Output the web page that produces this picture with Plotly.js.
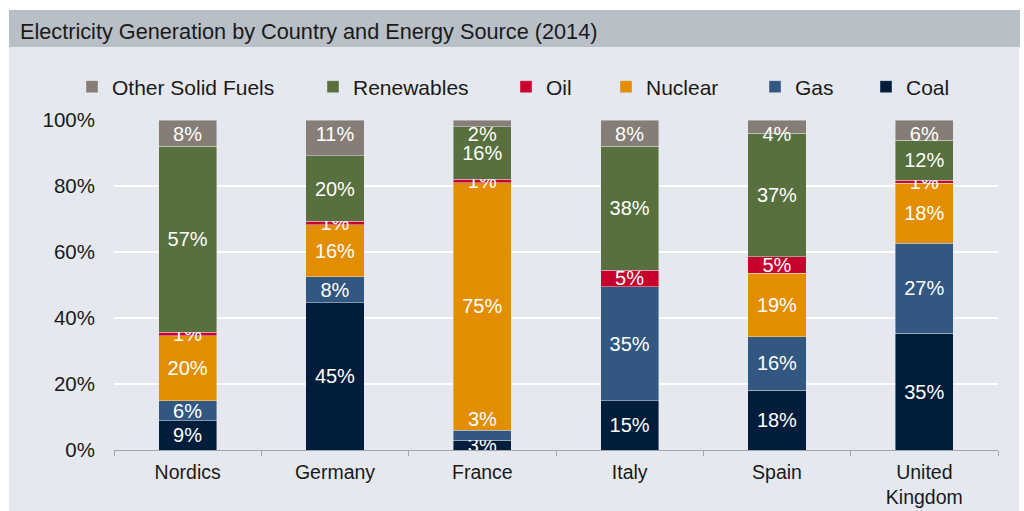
<!DOCTYPE html>
<html>
<head>
<meta charset="utf-8">
<script src="https://cdn.plot.ly/plotly-3.0.1.min.js"></script>
<style>html,body{margin:0;padding:0;background:#fff;}#chart{width:1024px;height:511px;}</style>
</head>
<body>
<div id="chart"></div>
<script>
var countries = ["Nordics", "Germany", "France", "Italy", "Spain", "United<br>Kingdom"];
var coal       = [9, 45, 3, 15, 18, 35];
var gas        = [6, 8, 3, 35, 16, 27];
var nuclear    = [20, 16, 75, 0, 19, 18];
var oil        = [1, 1, 1, 5, 5, 1];
var renewables = [57, 20, 16, 38, 37, 12];
var otherSolid = [8, 11, 2, 8, 4, 6];
var yTickVals  = [0, 20, 40, 60, 80, 100];
var yTickText  = ["0%", "20%", "40%", "60%", "80%", "100%"];

var series = [
  {name: "Coal", values: coal, color: "#001e3c"},
  {name: "Gas", values: gas, color: "#325882"},
  {name: "Nuclear", values: nuclear, color: "#e38d00"},
  {name: "Oil", values: oil, color: "#c8002e"},
  {name: "Renewables", values: renewables, color: "#57703d"},
  {name: "Other Solid Fuels", values: otherSolid, color: "#867d76"}
];

var FONT = "Liberation Sans, Arial, sans-serif";
var LABEL_SIZE = 20;
var TEXT_COLOR = "#1a1a1a";

// plot area in pixels (for paper-coordinate conversions of decorations)
var PL = 114, PR = 998, PT = 120, PB = 450;
function px2x(p) { return (p - PL) / (PR - PL); }
function px2y(p) { return (PB - p) / (PB - PT); }

// legend placement (left edge of each single-entry legend, px), legend order as in the reference
var legendOrder = ["Other Solid Fuels", "Renewables", "Oil", "Nuclear", "Gas", "Coal"];
var legendLeft  = [72, 313, 506, 606, 755, 866];

var totals = countries.map(function (c, i) {
  return series.reduce(function (a, s) { return a + s.values[i]; }, 0);
});

// France: gas label drawn just above its segment (as in reference, to avoid overlap)
var franceIdx = 2;

var traces = series.map(function (s) {
  var li = legendOrder.indexOf(s.name);
  var isTop = s.name === "Other Solid Fuels";
  return {
    type: "bar",
    name: s.name,
    legend: li === 0 ? "legend" : "legend" + (li + 1),
    x: countries,
    y: s.values,
    marker: {color: s.color, line: {color: "rgba(230,232,238,0.55)", width: 0.8}},
    text: s.values.map(function (v, i) {
      if (v <= 0) return "";
      if (s.name === "Gas" && i === franceIdx) return "";
      return v + "%";
    }),
    textposition: "inside",
    insidetextanchor: isTop ? "end" : "middle",
    textangle: 0,
    textfont: {family: FONT, size: LABEL_SIZE, color: "#ffffff"},
    hoverinfo: "name+y"
  };
});

var annotations = [{
  xref: "x", yref: "y",
  x: countries[franceIdx],
  y: (coal[franceIdx] + gas[franceIdx]) / totals[franceIdx] * 100,
  yanchor: "bottom", xanchor: "center",
  yshift: -2,
  text: gas[franceIdx] + "%",
  showarrow: false,
  font: {family: FONT, size: LABEL_SIZE, color: "#ffffff"}
}];

var layout = {
  width: 1024,
  height: 511,
  margin: {l: PL, r: 1024 - PR, t: PT, b: 511 - PB},
  paper_bgcolor: "#ffffff",
  plot_bgcolor: "#e5e8ee",
  barmode: "stack",
  barnorm: "percent",
  bargap: 0.606,
  uniformtext: {mode: "show", minsize: LABEL_SIZE},
  font: {family: FONT, size: 20, color: TEXT_COLOR},
  title: {
    text: "Electricity Generation by Country and Energy Source (2014)",
    font: {family: FONT, size: 21.7, color: TEXT_COLOR},
    xref: "container", yref: "container",
    x: 20 / 1024, xanchor: "left",
    y: 1 - 31 / 511, yanchor: "middle"
  },
  showlegend: true,
  annotations: annotations,
  xaxis: {
    type: "category",
    showline: true,
    linecolor: "#a6a6a6",
    linewidth: 1.3,
    ticks: "outside",
    tickson: "boundaries",
    ticklen: 5,
    tickcolor: "#a6a6a6",
    ticklabelstandoff: 4,
    showgrid: false,
    tickfont: {family: FONT, size: 19.5, color: TEXT_COLOR},
    fixedrange: true
  },
  yaxis: {
    range: [0, 100],
    tickvals: yTickVals,
    ticktext: yTickText,
    showgrid: true,
    gridcolor: "#ffffff",
    gridwidth: 1.5,
    zeroline: false,
    showline: false,
    ticks: "",
    ticklabelstandoff: 18,
    tickfont: {family: FONT, size: 20.5, color: TEXT_COLOR},
    fixedrange: true
  },
  shapes: [
    {type: "rect", xref: "paper", yref: "paper", layer: "below",
     x0: px2x(9), x1: px2x(1019), y0: px2y(512), y1: px2y(47),
     fillcolor: "#e5e8ee", line: {width: 0}},
    {type: "rect", xref: "paper", yref: "paper", layer: "below",
     x0: px2x(9), x1: px2x(1020), y0: px2y(47), y1: px2y(10),
     fillcolor: "#b9bfc6", line: {width: 0}}
  ]
};

legendOrder.forEach(function (name, i) {
  var key = i === 0 ? "legend" : "legend" + (i + 1);
  layout[key] = {
    orientation: "h",
    x: px2x(legendLeft[i]), xanchor: "left",
    y: px2y(87), yanchor: "middle",
    bgcolor: "rgba(0,0,0,0)",
    borderwidth: 0,
    font: {family: FONT, size: 21, color: TEXT_COLOR}
  };
});

Plotly.newPlot("chart", traces, layout, {displayModeBar: false, staticPlot: true});
</script>
</body>
</html>
